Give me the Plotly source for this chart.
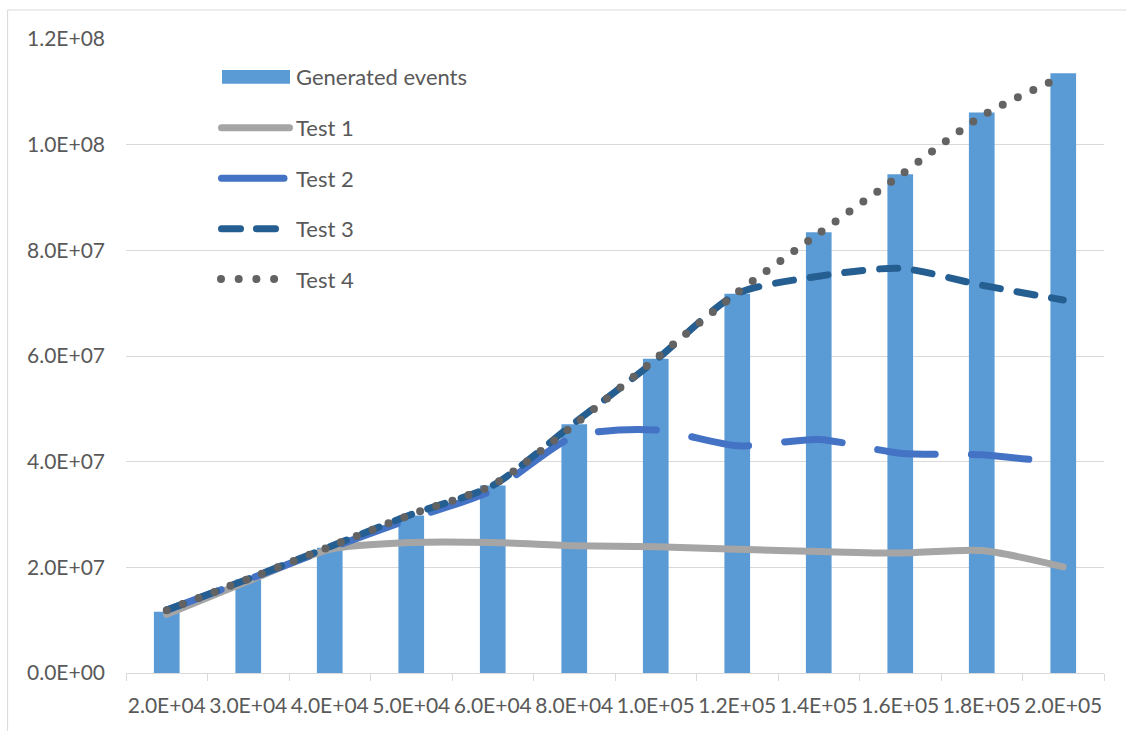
import plotly.graph_objects as go

# Event-count categories (x axis) and series values, in millions of events
categories = ["2.0E+04", "3.0E+04", "4.0E+04", "5.0E+04", "6.0E+04", "8.0E+04",
              "1.0E+05", "1.2E+05", "1.4E+05", "1.6E+05", "1.8E+05", "2.0E+05"]
generated_events = [11.6, 17.7, 23.7, 29.8, 35.5, 47.1, 59.5, 71.8, 83.4, 94.4, 106.1, 113.5]
test1 = [11.1, 17.4, 23.4, 24.7, 24.7, 24.1, 23.9, 23.4, 23.0, 22.7, 23.2, 20.1]
test2 = [11.9, 17.7, 23.6, 29.2, 34.6, 44.8, 46.0, 43.0, 44.2, 41.6, 41.3, 39.7]
test3 = [11.9, 17.8, 23.9, 30.0, 35.5, 47.3, 59.2, 71.8, 75.1, 76.6, 73.4, 70.6]
test4 = [11.9, 17.8, 23.9, 30.0, 35.6, 47.0, 59.5, 72.0, 83.2, 94.2, 105.4, 113.0]

y_tick_values = [0, 20e6, 40e6, 60e6, 80e6, 100e6, 120e6]
y_tick_labels = ["0.0E+00", "2.0E+07", "4.0E+07", "6.0E+07", "8.0E+07", "1.0E+08", "1.2E+08"]

legend_names = ["Generated events", "Test 1", "Test 2", "Test 3", "Test 4"]

M = 1e6
BAR = "#5B9BD5"
C1, C2, C3, C4 = "#A5A5A5", "#4472C4", "#255E91", "#636363"
TXT = "#595959"
GRID = "#D9D9D9"
FONT = "Lato, 'Open Sans', sans-serif"
TICK_SIZE = 21
LEGEND_SIZE = 22

W, H = 1126, 731
L, R, T, B = 126, 22, 39, 58
PW, PH = W - L - R, H - T - B


def px(x):
    return (x - L) / PW


def py(y):
    return (H - B - y) / PH


fig = go.Figure()
fig.add_trace(go.Bar(x=categories, y=[v * M for v in generated_events],
                     marker=dict(color=BAR, line=dict(width=0)), name=legend_names[0]))

line_specs = [
    (test1, C1, "solid", 7, legend_names[1]),
    (test2, C2, "58px,36px", 7, legend_names[2]),
    (test3, C3, "18px,17px", 7, legend_names[3]),
    (test4, C4, "0px,17px", 8, legend_names[4]),
]
for vals, col, dash, w, nm in line_specs:
    fig.add_trace(go.Scatter(x=categories, y=[v * M for v in vals], mode="lines", name=nm,
                             line=dict(color=col, width=w, dash=dash, shape="spline", smoothing=0.7)))

# Hand-drawn legend entries (long swatches) plus the outer chart frame
shapes = [
    dict(type="rect", xref="paper", yref="paper", x0=px(8), x1=1.2, y0=-0.3, y1=py(10),
         line=dict(color=GRID, width=1), fillcolor="rgba(0,0,0,0)", layer="below"),
    dict(type="rect", xref="paper", yref="paper", x0=px(222), x1=px(290), y0=py(83.7), y1=py(70),
         line=dict(width=0), fillcolor=BAR),
    dict(type="line", xref="paper", yref="paper", x0=px(221.5), x1=px(289.5), y0=py(127.7), y1=py(127.7),
         line=dict(color=C1, width=7)),
    dict(type="line", xref="paper", yref="paper", x0=px(221.5), x1=px(284), y0=py(178.3), y1=py(178.3),
         line=dict(color=C2, width=7)),
    dict(type="line", xref="paper", yref="paper", x0=px(221.5), x1=px(275.5), y0=py(228.7), y1=py(228.7),
         line=dict(color=C3, width=7, dash="19px,16px")),
    dict(type="line", xref="paper", yref="paper", x0=px(221), x1=px(275), y0=py(279), y1=py(279),
         line=dict(color=C4, width=8, dash="0px,17.7px")),
]
legend_y = [76.7, 127.7, 178.3, 228.7, 279]
annotations = [
    dict(text=nm, xref="paper", yref="paper", x=px(294), y=py(yy), xanchor="left", yanchor="middle",
         showarrow=False, font=dict(family=FONT, size=LEGEND_SIZE, color=TXT))
    for nm, yy in zip(legend_names, legend_y)
]

fig.update_layout(
    width=W, height=H,
    margin=dict(l=L, r=R, t=T, b=B, pad=0),
    paper_bgcolor="white", plot_bgcolor="white",
    showlegend=False,
    bargap=0.685,
    font=dict(family=FONT, size=TICK_SIZE, color=TXT),
    shapes=shapes,
    annotations=annotations,
    xaxis=dict(type="category", showgrid=False, showline=True, linecolor=GRID, linewidth=1,
               ticks="outside", tickson="boundaries", ticklen=7, tickcolor=GRID, tickwidth=1,
               tickangle=0, tickfont=dict(family=FONT, size=TICK_SIZE, color=TXT), ticklabelstandoff=14,
               fixedrange=True),
    yaxis=dict(range=[0, 120e6], tickvals=y_tick_values, ticktext=y_tick_labels,
               showgrid=True, gridcolor=GRID, gridwidth=1, zeroline=False, showline=False,
               ticks="", tickfont=dict(family=FONT, size=TICK_SIZE, color=TXT), ticklabelstandoff=20,
               fixedrange=True),
)

round_caps = """
var s = document.createElement('style');
s.textContent = '.scatterlayer .js-line, .shapelayer path { stroke-linecap: round; }';
document.head.appendChild(s);
"""
fig.write_html("out.html", post_script=round_caps, config={"displayModeBar": False})
